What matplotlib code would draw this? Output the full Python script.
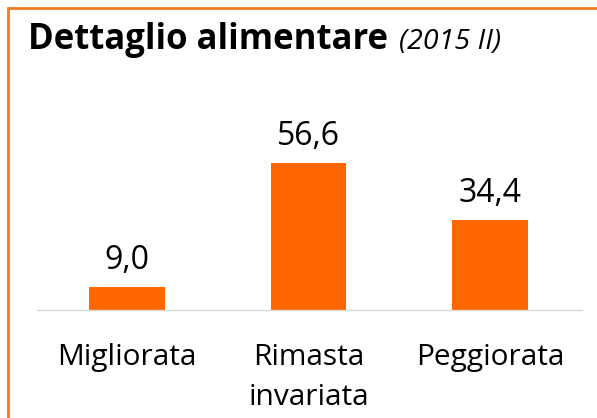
import matplotlib
matplotlib.use("Agg")
import matplotlib.pyplot as plt
from matplotlib.lines import Line2D

plt.rcParams['font.family'] = ['Open Sans', 'DejaVu Sans']

categories = ["Migliorata", "Rimasta\ninvariata", "Peggiorata"]
values = [9.0, 56.6, 34.4]
value_labels = ["9,0", "56,6", "34,4"]
title_main = "Dettaglio alimentare"
title_sub = "(2015 II)"

W, H = 597, 418
fig = plt.figure(figsize=(W / 100, H / 100), dpi=100)

bar_color = "#FF6600"
border_color = "#F47A20"

ax = fig.add_axes([37 / W, 1 - 310 / H, (582 - 37) / W, 210 / H])
x = list(range(len(categories)))
ax.bar(x, values, width=0.416, color=bar_color, zorder=2)
ax.set_xlim(-0.4955, 2.505)
ax.set_ylim(0, 80.68)
for s in ["top", "left", "right"]:
    ax.spines[s].set_visible(False)
ax.spines["bottom"].set_color("#D9D9D9")
ax.spines["bottom"].set_linewidth(1.0)
ax.set_xticks([])
ax.set_yticks([])

px = 72 / 100  # points per pixel
for i, (v, lab) in enumerate(zip(values, value_labels)):
    ax.annotate(lab, xy=(i, v), xytext=(0, 18 * px), textcoords="offset points",
                ha="center", va="baseline", fontsize=23, color="black")

for i, c in enumerate(categories):
    for j, line in enumerate(c.split("\n")):
        ax.annotate(line, xy=(i, 0), xytext=(0, -(55 + 40 * j) * px),
                    textcoords="offset points", ha="center", va="baseline",
                    fontsize=21.5, color="black")

fig.text(28 / W, 1 - 49 / H, title_main, ha="left", va="baseline",
         fontsize=25, fontweight="bold", color="black")
fig.text(399 / W, 1 - 49 / H, title_sub, ha="left", va="baseline",
         fontsize=20.5, fontstyle="italic", color="black")

# frame (top and left border)
fig.add_artist(Line2D([7 / W, 1.0], [1 - 7.5 / H, 1 - 7.5 / H],
                      transform=fig.transFigure, color=border_color, lw=2.0,
                      solid_capstyle="butt"))
fig.add_artist(Line2D([7.5 / W, 7.5 / W], [0.0, 1 - 6.5 / H],
                      transform=fig.transFigure, color=border_color, lw=2.0,
                      solid_capstyle="butt"))

fig.savefig("out.png", dpi=100, facecolor="white")
